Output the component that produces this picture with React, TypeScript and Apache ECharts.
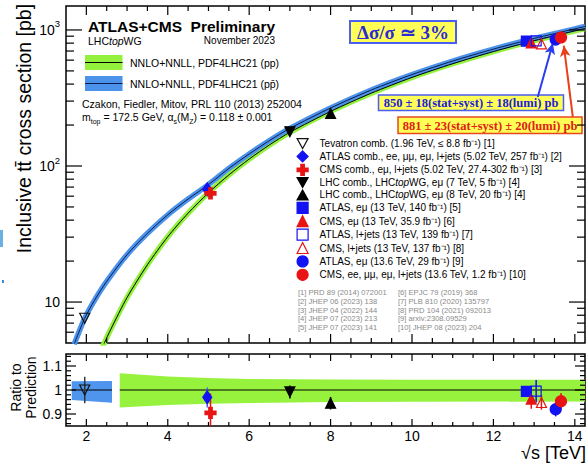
import React, { useEffect, useRef } from "react";
import * as echarts from "echarts";

const SANS = "'Liberation Sans', Arial, Helvetica, sans-serif";
const SERIF = "'Liberation Serif', 'Times New Roman', Times, serif";

// ---------------- data ----------------
const ppEnergy = [2.4, 2.6, 3, 3.5, 4, 4.5, 5, 5.5, 6, 6.5, 7, 8, 9, 10, 11, 12, 13, 14, 14.25];
const ppXsec = [4.7, 6.3, 10.8, 18.8, 30.2, 45, 63.5, 86, 112.5, 143, 177, 252, 343, 448, 565, 694, 834, 985, 1025];
const ppbarEnergy = [1.7, 1.96, 2.2, 2.5, 3, 3.5, 4, 4.5, 5, 5.5, 6, 6.5, 7, 8, 9, 10, 11, 12, 13, 14, 14.25];
const ppbarXsec = [4.9, 7.6, 10.3, 14.2, 22.3, 32, 43.8, 57.2, 73, 96, 122.6, 154, 189, 267, 362, 470, 591, 723, 866, 1019, 1060];

const ppbarBandEnergy = [1.64, 2.63];
const ppbarBandLow = [0.958, 0.947];
const ppbarBandHigh = [1.036, 1.037];
const ppBandEnergy = [2.82, 4, 5, 6, 8, 10, 14.25];
const ppBandLow = [0.927, 0.938, 0.943, 0.946, 0.95, 0.951, 0.952];
const ppBandHigh = [1.07, 1.056, 1.05, 1.046, 1.044, 1.043, 1.043];
const unityEnergyA = [1.64, 2.63];
const unityEnergyB = [2.82, 14.25];
const unityValue = 1;

const measNames = [
  "Tevatron comb. (1.96 TeV, \u2264 8.8 fb\u207B\u00B9) [1]",
  "ATLAS comb., ee, \u03BC\u03BC, e\u03BC, l+jets (5.02 TeV, 257 fb\u207B\u00B9) [2]",
  "CMS comb., e\u03BC, l+jets (5.02 TeV, 27.4-302 fb\u207B\u00B9) [3]",
  "LHC comb., LHCtopWG, e\u03BC (7 TeV, 5 fb\u207B\u00B9) [4]",
  "LHC comb., LHCtopWG, e\u03BC (8 TeV, 20 fb\u207B\u00B9) [4]",
  "ATLAS, e\u03BC (13 TeV, 140 fb\u207B\u00B9) [5]",
  "CMS, e\u03BC (13 TeV, 35.9 fb\u207B\u00B9) [6]",
  "ATLAS, l+jets (13 TeV, 139 fb\u207B\u00B9) [7]",
  "CMS, l+jets (13 TeV, 137 fb\u207B\u00B9) [8]",
  "ATLAS, e\u03BC (13.6 TeV, 29 fb\u207B\u00B9) [9]",
  "CMS, ee, \u03BC\u03BC, e\u03BC, l+jets (13.6 TeV, 1.2 fb\u207B\u00B9) [10]",
];
const measEnergy = [1.96, 4.97, 5.05, 7, 8, 12.81, 12.93, 13.05, 13.18, 13.53, 13.66];
const measXsec = [7.6, 67.5, 63.0, 178.5, 243.3, 829, 803, 830, 791, 850, 881];
const measRatio = [1.0, 0.97, 0.905, 0.992, 0.945, 0.994, 0.962, 0.995, 0.948, 0.92, 0.953];
const measRatioErrUp = [0.055, 0.04, 0.08, 0.027, 0.026, 0.02, 0.04, 0.047, 0.03, 0.03, 0.035];
const measRatioErrDown = [0.055, 0.043, 0.08, 0.027, 0.026, 0.02, 0.04, 0.047, 0.03, 0.03, 0.035];

const xLabelValues = [2, 4, 6, 8, 10, 12, 14];
const xMajorTicks = [2, 4, 6, 8, 10, 12, 14];
const xMinorTicks = [2.5, 3, 3.5, 4.5, 5, 5.5, 6.5, 7, 7.5, 8.5, 9, 9.5, 10.5, 11, 11.5, 12.5, 13, 13.5];
const yMajorTicks = [10, 100, 1000];
const yMinorTicks = [6, 7, 8, 9, 20, 30, 40, 50, 60, 70, 80, 90, 200, 300, 400, 500, 600, 700, 800, 900];
const rMajorTicks = [0.9, 1, 1.1];
const rTickLabels = ["0.9", "1", "1.1"];
const rMinorTicks = [0.86, 0.88, 0.92, 0.94, 0.96, 0.98, 1.02, 1.04, 1.06, 1.08, 1.12, 1.14];

const refsLeft = [
  "[1] PRD 89 (2014) 072001",
  "[2] JHEP 06 (2023) 138",
  "[3] JHEP 04 (2022) 144",
  "[4] JHEP 07 (2023) 213",
  "[5] JHEP 07 (2023) 141",
];
const refsRight = [
  "[6] EPJC 79 (2019) 368",
  "[7] PLB 810 (2020) 135797",
  "[8] PRD 104 (2021) 092013",
  "[9] arxiv:2308.09529",
  "[10] JHEP 08 (2023) 204",
];

const blueArrow = [[13.09, 321], [13.46, 798]];
const redArrow = [[13.95, 230], [13.73, 767]];

// ---------------- styles ----------------
const X_MIN = 1.5, X_MAX = 14.25, Y_MIN = 5, Y_MAX = 1500, R_MIN = 0.85, R_MAX = 1.15;
const BLUE = "#1212f2";
const RED = "#e81414";
const GREEN = "#93f03c";
const BLUEBAND = "#4b92ea";
const NONE = "rgba(255,255,255,0)";
const DOWN = "path://M0,0L10,0L5,9Z";
const UP = "path://M5,0L10,9L0,9Z";
const PLUS = "path://M3.4,0H6.6V3.4H10V6.6H6.6V10H3.4V6.6H0V3.4H3.4Z";

const markers = [
  { symbol: DOWN, size: 10, fill: NONE, stroke: "#111", bar: "#333" },
  { symbol: "diamond", size: [9, 13], fill: BLUE, stroke: BLUE, bar: "#4a5af0" },
  { symbol: PLUS, size: 11, fill: RED, stroke: RED, bar: RED },
  { symbol: DOWN, size: 10, fill: "#000", stroke: "#000", bar: "#000" },
  { symbol: UP, size: 10, fill: "#000", stroke: "#000", bar: "#000" },
  { symbol: "rect", size: 10, fill: BLUE, stroke: BLUE, bar: BLUE },
  { symbol: "triangle", size: 10, fill: RED, stroke: RED, bar: RED },
  { symbol: "rect", size: 10, fill: NONE, stroke: BLUE, bar: BLUE },
  { symbol: "triangle", size: 10, fill: NONE, stroke: RED, bar: RED },
  { symbol: "circle", size: 11, fill: BLUE, stroke: BLUE, bar: BLUE },
  { symbol: "circle", size: 11, fill: RED, stroke: RED, bar: RED },
];

function xTickSeries(gi: number, yLo: number, yHi: number, majorLen: number, minorLen: number) {
  const data = [...xMajorTicks.map((v) => [v, majorLen]), ...xMinorTicks.map((v) => [v, minorLen])];
  return {
    type: "custom", xAxisIndex: gi, yAxisIndex: gi, silent: true, z: 20, data,
    renderItem: (_p: any, api: any) => {
      const v = api.value(0);
      const len = api.value(1);
      const b = api.coord([v, yLo]);
      const t = api.coord([v, yHi]);
      const st = { stroke: "#000", lineWidth: 1.2 };
      return {
        type: "group",
        children: [
          { type: "line", shape: { x1: b[0], y1: b[1], x2: b[0], y2: b[1] - len }, style: st },
          { type: "line", shape: { x1: t[0], y1: t[1], x2: t[0], y2: t[1] + len }, style: st },
        ],
      };
    },
  };
}

function yTickSeries(gi: number, majors: number[], minors: number[], majorLen: number, minorLen: number) {
  const data = [...majors.map((v) => [X_MIN, v, majorLen]), ...minors.map((v) => [X_MIN, v, minorLen])];
  return {
    type: "custom", xAxisIndex: gi, yAxisIndex: gi, silent: true, z: 20, data,
    renderItem: (_p: any, api: any) => {
      const v = api.value(1);
      const len = api.value(2);
      const l = api.coord([X_MIN, v]);
      const r = api.coord([X_MAX, v]);
      const st = { stroke: "#000", lineWidth: 1.2 };
      return {
        type: "group",
        children: [
          { type: "line", shape: { x1: l[0], y1: l[1], x2: l[0] + len, y2: l[1] }, style: st },
          { type: "line", shape: { x1: r[0], y1: r[1], x2: r[0] - len, y2: r[1] }, style: st },
        ],
      };
    },
  };
}

function bandSeries(xs: number[], lo: number[], hi: number[], color: string) {
  return {
    type: "custom", xAxisIndex: 1, yAxisIndex: 1, silent: true, z: 1,
    data: xs.map((x, i) => [x, lo[i], hi[i]]),
    renderItem: (params: any, api: any) => {
      if (params.dataIndex !== 0) return null;
      const pts: number[][] = [];
      for (let i = 0; i < xs.length; i++) pts.push(api.coord([xs[i], hi[i]]));
      for (let i = xs.length - 1; i >= 0; i--) pts.push(api.coord([xs[i], lo[i]]));
      return { type: "polygon", shape: { points: pts }, style: { fill: color } };
    },
  };
}

function txt(x: number, y: number, text: string, extra: any = {}, rot = 0) {
  return {
    type: "text", x, y, rotation: rot,
    style: { text, fontSize: 10.5, fontFamily: SANS, fill: "#000", verticalAlign: "middle", ...extra },
  };
}

function buildGraphic(): any[] {
  const g: any[] = [
    { type: "rect", shape: { x: 0, y: 230, width: 3, height: 17 }, style: { fill: "#6ab0e4" } },
    { type: "rect", shape: { x: 2, y: 280, width: 2, height: 3 }, style: { fill: "#3a8ad0" } },
    txt(88, 26, "ATLAS+CMS  Preliminary", { fontSize: 15.5, fontWeight: "bold" }),
    txt(88, 40.5, "LHC{i|top}WG", { rich: { i: { fontSize: 10.5, fontFamily: SANS, fontStyle: "italic", fill: "#000" } } }),
    txt(275, 40.5, "November 2023", { fontSize: 10, align: "right" }),
    { type: "rect", shape: { x: 85, y: 55, width: 37.5, height: 15 }, style: { fill: GREEN } },
    { type: "line", shape: { x1: 85, y1: 62.5, x2: 122.5, y2: 62.5 }, style: { stroke: "#000", lineWidth: 1.2 } },
    { type: "rect", shape: { x: 85, y: 76, width: 37.5, height: 15 }, style: { fill: BLUEBAND } },
    { type: "line", shape: { x1: 85, y1: 83.5, x2: 122.5, y2: 83.5 }, style: { stroke: "#0d1d4d", lineWidth: 1.2 } },
    txt(130, 62.5, "NNLO+NNLL, PDF4LHC21 (pp)"),
    txt(130, 83.5, "NNLO+NNLL, PDF4LHC21 (pp\u0304)"),
    txt(82, 104, "Czakon, Fiedler, Mitov, PRL 110 (2013) 252004"),
    txt(82, 117, "m{sub|top} = 172.5 GeV, \u03B1{sub|s}(M{sub|Z}) = 0.118 \u00B1 0.001", {
      lineHeight: 15,
      rich: { sub: { fontSize: 7, fontFamily: SANS, fill: "#000", verticalAlign: "bottom", lineHeight: 8 } },
    }),
    { type: "rect", shape: { x: 350, y: 21, width: 106, height: 22 }, style: { fill: "#ffff55", stroke: "#4a5ef0", lineWidth: 2 } },
    txt(403, 32.5, "\u0394\u03C3/\u03C3 \u2243 3%", { fontSize: 19, fontWeight: "bold", fontFamily: SERIF, fill: "#2b2bd6", align: "center" }),
    { type: "rect", shape: { x: 378.5, y: 95, width: 185, height: 15.5 }, style: { fill: "#ffff55", stroke: "#4a5ef0", lineWidth: 1.5 } },
    txt(471, 103, "850 \u00B1 18(stat+syst) \u00B1 18(lumi) pb", { fontSize: 12.5, fontWeight: "bold", fontFamily: SERIF, fill: "#2020d8", align: "center" }),
    { type: "rect", shape: { x: 398, y: 117, width: 184, height: 16.5 }, style: { fill: "#ffff55", stroke: "#e8481e", lineWidth: 1.5 } },
    txt(490, 125.5, "881 \u00B1 23(stat+syst) \u00B1 20(lumi) pb", { fontSize: 12.5, fontWeight: "bold", fontFamily: SERIF, fill: "#e0201a", align: "center" }),
    txt(24, 128.5, "Inclusive tt\u0304 cross section [pb]", { fontSize: 19.5, align: "center" }, Math.PI / 2),
    txt(16, 387.5, "Ratio to", { fontSize: 14, align: "center" }, Math.PI / 2),
    txt(31, 387.5, "Prediction", { fontSize: 14, align: "center" }, Math.PI / 2),
    txt(586, 453, "\u221As [TeV]", { fontSize: 18, align: "right" }),
  ];
  const refRows = [292.7, 301.4, 310, 318.7, 327.4];
  refsLeft.forEach((t, i) => g.push(txt(298, refRows[i], t, { fontSize: 7.6, fill: "#8a8a8a" })));
  refsRight.forEach((t, i) => g.push(txt(398, refRows[i], t, { fontSize: 7.6, fill: "#8a8a8a" })));
  return g;
}

function buildOption() {
  const ppCurve = ppEnergy.map((x, i) => [x, ppXsec[i]]);
  const ppbarCurve = ppbarEnergy.map((x, i) => [x, ppbarXsec[i]]);

  const scatter = (gi: number, yv: number[], named: boolean) =>
    measNames.map((n, i) => ({
      type: "scatter",
      name: named ? n : "ratio-" + i,
      xAxisIndex: gi,
      yAxisIndex: gi,
      data: [[measEnergy[i], yv[i]]],
      symbol: markers[i].symbol,
      symbolSize: markers[i].size,
      itemStyle: { color: markers[i].fill, borderColor: markers[i].stroke, borderWidth: 1.2, opacity: 1 },
      z: 6,
      silent: true,
    }));

  const errorBars = {
    type: "custom", xAxisIndex: 1, yAxisIndex: 1, silent: true, z: 5,
    data: measEnergy.map((x, i) => [x, measRatio[i] - measRatioErrDown[i], measRatio[i] + measRatioErrUp[i], i]),
    renderItem: (_p: any, api: any) => {
      const x = api.value(0);
      const lo = api.coord([x, Math.max(api.value(1), R_MIN)]);
      const hi = api.coord([x, Math.min(api.value(2), R_MAX)]);
      const i = api.value(3);
      return {
        type: "line",
        shape: { x1: lo[0], y1: lo[1], x2: hi[0], y2: hi[1] },
        style: { stroke: markers[i].bar, lineWidth: 1.5 },
      };
    },
  };

  const gridBase = { show: true, borderColor: "#000", borderWidth: 1.5, backgroundColor: "transparent" };
  const xBase = {
    type: "value", min: X_MIN, max: X_MAX, interval: 0.5,
    axisLine: { show: false }, axisTick: { show: false }, splitLine: { show: false }, minorTick: { show: false },
  };

  return {
    animation: false,
    backgroundColor: "#fff",
    grid: [
      { ...gridBase, left: 66, top: 6, width: 519, height: 337 },
      { ...gridBase, left: 66, top: 354, width: 519, height: 72 },
    ],
    xAxis: [
      { ...xBase, gridIndex: 0, axisLabel: { show: false } },
      {
        ...xBase, gridIndex: 1,
        axisLabel: {
          interval: 0, margin: 3, fontSize: 14, fontFamily: SANS, color: "#000",
          showMinLabel: false, showMaxLabel: false,
          formatter: (v: number) => (xLabelValues.includes(Math.round(v * 100) / 100) ? String(Math.round(v)) : ""),
        },
      },
    ],
    yAxis: [
      {
        type: "log", logBase: 10, min: Y_MIN, max: Y_MAX, gridIndex: 0,
        axisLine: { show: false }, axisTick: { show: false }, splitLine: { show: false }, minorTick: { show: false },
        axisLabel: {
          margin: 6, fontSize: 14, fontFamily: SANS, color: "#000",
          showMinLabel: false, showMaxLabel: false,
          formatter: (v: number) => {
            const e = Math.log10(v);
            const r = Math.round(e);
            if (Math.abs(e - r) > 1e-6 || r < 1 || r > 3) return "";
            return r === 1 ? "{b|10}" : "{b|10}{s|" + r + "}";
          },
          rich: {
            b: { fontSize: 14, fontFamily: SANS, color: "#000", lineHeight: 22 },
            s: { fontSize: 9.5, fontFamily: SANS, color: "#000", verticalAlign: "top", lineHeight: 11 },
          },
        },
      },
      {
        type: "value", min: R_MIN, max: R_MAX, gridIndex: 1,
        axisLine: { show: false }, axisTick: { show: false }, splitLine: { show: false }, minorTick: { show: false },
        axisLabel: { show: false },
      },
    ],
    legend: {
      data: measNames,
      orient: "vertical",
      left: 296.5,
      top: 138,
      padding: 0,
      itemGap: 1.2,
      itemWidth: 11,
      itemHeight: 11,
      selectedMode: false,
      itemStyle: { borderWidth: 1.2 },
      textStyle: {
        fontFamily: SANS, fontSize: 10, color: "#000", lineHeight: 11, padding: [0, 0, 0, 6.5],
        rich: { i: { fontFamily: SANS, fontSize: 10, fontStyle: "italic", color: "#000", lineHeight: 11 } },
      },
      formatter: (name: string) => name.replace("LHCtopWG", "LHC{i|top}WG"),
    },
    graphic: buildGraphic(),
    series: [
      { type: "line", name: "pp band", xAxisIndex: 0, yAxisIndex: 0, data: ppCurve, symbol: "none", smooth: 0.25, lineStyle: { color: GREEN, width: 5.5 }, z: 2, silent: true },
      { type: "line", name: "ppbar band", xAxisIndex: 0, yAxisIndex: 0, data: ppbarCurve, symbol: "none", smooth: 0.25, lineStyle: { color: BLUEBAND, width: 5.5 }, z: 2, silent: true },
      { type: "line", name: "pp central", xAxisIndex: 0, yAxisIndex: 0, data: ppCurve, symbol: "none", smooth: 0.25, lineStyle: { color: "#000", width: 1 }, z: 3, silent: true },
      {
        type: "line", name: "ppbar central", xAxisIndex: 0, yAxisIndex: 0, data: ppbarCurve, symbol: "none",
        smooth: 0.25, lineStyle: { color: "#0d1d4d", width: 1 }, z: 3, silent: true,
        markLine: {
          silent: true, symbol: ["none", "arrow"], symbolSize: [8, 11], label: { show: false },
          lineStyle: { type: "solid", width: 2 },
          data: [
            [{ coord: blueArrow[0], lineStyle: { color: "#2a3cf0", width: 2, type: "solid" } }, { coord: blueArrow[1] }],
            [{ coord: redArrow[0], lineStyle: { color: "#e8401a", width: 2, type: "solid" } }, { coord: redArrow[1] }],
          ],
        },
      },
      ...scatter(0, measXsec, true),
      bandSeries(ppbarBandEnergy, ppbarBandLow, ppbarBandHigh, "#4f95ee"),
      bandSeries(ppBandEnergy, ppBandLow, ppBandHigh, "#97f23e"),
      { type: "line", name: "unity a", xAxisIndex: 1, yAxisIndex: 1, data: unityEnergyA.map((x) => [x, unityValue]), symbol: "none", lineStyle: { color: "#000", width: 1 }, z: 3, silent: true },
      { type: "line", name: "unity b", xAxisIndex: 1, yAxisIndex: 1, data: unityEnergyB.map((x) => [x, unityValue]), symbol: "none", lineStyle: { color: "#000", width: 1 }, z: 3, silent: true },
      errorBars,
      ...scatter(1, measRatio, false),
      xTickSeries(0, Y_MIN, Y_MAX, 9, 5),
      xTickSeries(1, R_MIN, R_MAX, 7, 4),
      yTickSeries(0, yMajorTicks, yMinorTicks, 16, 8),
      yTickSeries(1, rMajorTicks, rMinorTicks, 10, 5),
    ],
  };
}

export default function App() {
  const ref = useRef<HTMLDivElement>(null);
  useEffect(() => {
    if (!ref.current) return;
    const chart = echarts.init(ref.current, null, { renderer: "svg" });
    chart.setOption(buildOption() as any);
    // ratio-panel tick labels, positioned through the ratio axis scale
    const labels: any[] = [];
    rMajorTicks.forEach((v, i) => {
      const p = chart.convertToPixel({ xAxisIndex: 1, yAxisIndex: 1 }, [X_MIN, v]) as number[];
      labels.push({
        type: "rect", z: 300,
        shape: { x: p[0] - 25, y: p[1] - 8, width: 22, height: 16 },
        style: { fill: "#ffffff" },
      });
      labels.push({
        type: "text", x: p[0] - 4, y: p[1], z: 400,
        style: { text: rTickLabels[i], fontSize: 14, fontFamily: SANS, fill: "#000", align: "right", verticalAlign: "middle" },
      });
    });
    chart.setOption({ graphic: [...buildGraphic(), ...labels] } as any);
    return () => chart.dispose();
  }, []);
  return <div ref={ref} style={{ position: "absolute", left: 0, top: 0, width: 588, height: 468 }} />;
}
